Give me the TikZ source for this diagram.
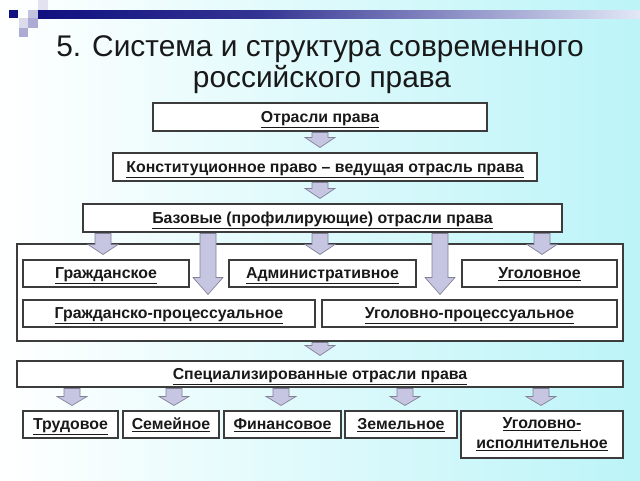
\documentclass[tikz,border=0pt]{standalone}
\usepackage{fontspec}
\setmainfont{Liberation Sans}
\usepackage{tikz}
\usetikzlibrary{calc}

\definecolor{bgcyan}{RGB}{188,244,248}
\definecolor{navy}{RGB}{16,16,128}
\definecolor{barend}{RGB}{226,232,246}
\definecolor{arrfill}{RGB}{198,198,226}
\definecolor{arrline}{RGB}{128,128,150}
\definecolor{boxline}{RGB}{60,60,60}

\tikzset{
  box/.style={draw=boxline,line width=0.8pt,fill=white,inner sep=0pt,
    text height=11pt,text depth=3.5pt,
    font=\bfseries\fontsize{11.9}{14}\selectfont,text=black!90},
  blockarrow/.style={draw=arrline,line width=0.5pt,fill=arrfill,line join=miter}
}

% block arrow: [head length]{x in px}{from}{to}
\newcommand\barrow[4][7.5pt]{%
  \draw[blockarrow] let \p0=(#2,0), \p1=(#3.south), \p2=(#4.north) in
    (\x0-6pt,\y1-.75pt) -- (\x0+6pt,\y1-.75pt) -- (\x0+6pt,\y2+3.75pt+#1)
    -- (\x0+11.25pt,\y2+3.75pt+#1) -- (\x0,\y2+3.75pt)
    -- (\x0-11.25pt,\y2+3.75pt+#1) -- (\x0-6pt,\y2+3.75pt+#1) -- cycle;}

\begin{document}
\begin{tikzpicture}[x=0.75pt,y=-0.75pt]
\shade[left color=white,right color=bgcyan](0,0)rectangle(640,480);
\useasboundingbox(0,0)rectangle(640,480);
% top bar and squares
\shade[left color=navy,right color=navy!85!white](38,10)rectangle(260,18);
\shade[left color=navy!85!white,right color=barend](260,10)rectangle(640,18);
\fill[navy](9,10)rectangle(18,18);
\fill[navy!25](28,10)rectangle(38,18);
\fill[navy!12](38,0)rectangle(48,10);
\fill[navy!15](19,18)rectangle(28,28);
\fill[navy!35](28,18)rectangle(38,28);
\fill[navy!35](19,28)rectangle(28,37);

\node[anchor=base,font=\fontsize{22.4}{26}\selectfont,text=black!90](title1)at(320,56)
  {5. Система и структура современного};
\node[anchor=base,font=\fontsize{22.4}{26}\selectfont,text=black!90](title2)at(322,87)
  {российского права};

\node[box,minimum width=250.5pt,minimum height=21pt](otr)at(320,117){\underline{Отрасли права}};
\node[box,minimum width=318pt,minimum height=21pt](konst)at(325,167)
  {\underline{Конституционное право – ведущая отрасль права}};
\node[box,minimum width=359.25pt,minimum height=21pt](base)at(322.5,218)
  {\underline{Базовые (профилирующие) отрасли права}};

\node[box,minimum width=454.5pt,minimum height=72.75pt](grp)at(320,292.5){};
\node[box,minimum width=124.5pt,minimum height=20.25pt](grazh)at(106,273.5){\underline{Гражданское}};
\node[box,minimum width=140.25pt,minimum height=20.25pt](adm)at(322.5,273.5){\underline{Административное}};
\node[box,minimum width=116.25pt,minimum height=20.25pt](ugol)at(539.5,273.5){\underline{Уголовное}};
\node[box,minimum width=219pt,minimum height=20.25pt](gpr)at(169,313.5){\underline{Гражданско-процессуальное}};
\node[box,minimum width=221.25pt,minimum height=20.25pt](upr)at(469.5,313.5){\underline{Уголовно-процессуальное}};

\node[box,minimum width=454.5pt,minimum height=19.5pt](spec)at(320,374)
  {\underline{Специализированные отрасли права}};
\node[box,minimum width=71.25pt,minimum height=20.25pt](trud)at(70.5,424.5){\underline{Трудовое}};
\node[box,minimum width=72pt,minimum height=20.25pt](sem)at(171,424.5){\underline{Семейное}};
\node[box,minimum width=87.75pt,minimum height=20.25pt](fin)at(282.5,424.5){\underline{Финансовое}};
\node[box,minimum width=84pt,minimum height=20.25pt](zem)at(401,424.5){\underline{Земельное}};
\node[box,minimum width=121.5pt,minimum height=35.25pt,align=center,text height={},text depth={}](uisp)at(542,434.5)
  {\underline{Уголовно-}\\[1pt]\underline{исполнительное}};

\barrow{320}{otr}{konst}
\barrow{320}{konst}{base}
\barrow{103}{base}{grazh}
\barrow{320}{base}{adm}
\barrow{542}{base}{ugol}
\barrow[12.75pt]{208}{base}{gpr}
\barrow[12.75pt]{440}{base}{upr}
\barrow{320}{grp}{spec}
\barrow[6.75pt]{72}{spec}{trud}
\barrow[6.75pt]{174}{spec}{sem}
\barrow[6.75pt]{281}{spec}{fin}
\barrow[6.75pt]{405}{spec}{zem}
\barrow[6.75pt]{541}{spec}{uisp}
\end{tikzpicture}
\end{document}
